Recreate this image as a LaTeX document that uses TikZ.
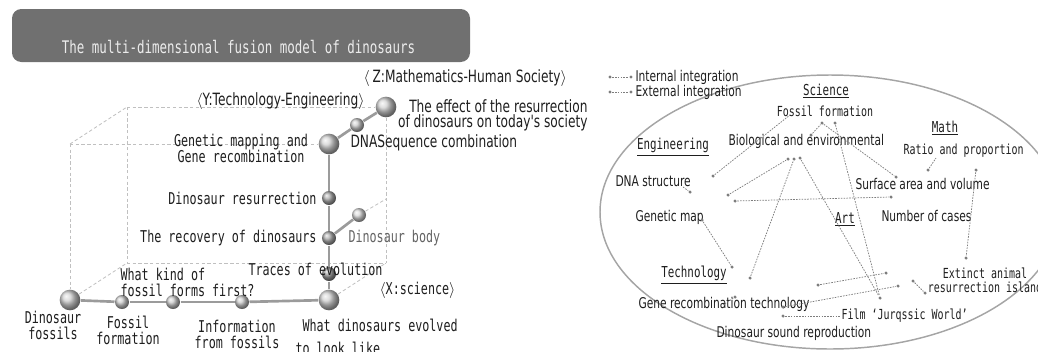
\documentclass[tikz,border=0pt]{standalone}
\usepackage{fontspec}
\newfontfamily\gulimmono[FakeStretch=0.72]{DejaVu Sans Mono}
\newfontfamily\narrowsans[FakeStretch=0.72]{DejaVu Sans}
\usetikzlibrary{positioning}

\definecolor{titlefill}{RGB}{112,112,112}
\definecolor{titleink}{RGB}{236,236,236}
\definecolor{ink}{RGB}{30,30,30}
\definecolor{bodyink}{RGB}{100,100,100}
\definecolor{rodgray}{RGB}{155,155,155}
\definecolor{cubegray}{RGB}{192,192,192}
\definecolor{linkgray}{RGB}{125,125,125}
\definecolor{ovalgray}{RGB}{165,165,165}

\tikzset{every picture/.style={line width=0.75pt}}

\begin{document}
\begin{tikzpicture}[x=0.75pt,y=0.75pt,yscale=-1,xscale=1,
  ballbig/.style={circle,shading=ball,ball color=gray!35,minimum size=15.5pt,inner sep=0pt},
  ballsmall/.style={circle,shading=ball,ball color=gray!40,minimum size=10.5pt,inner sep=0pt},
  rod/.style={draw=rodgray,line width=2pt},
  cubeedge/.style={draw=cubegray,line width=0.6pt,dash pattern=on 2.5pt off 1.8pt},
  link/.style={draw=linkgray,line width=0.55pt,dash pattern=on 1.2pt off 0.9pt},
  dotmark/.style={circle,fill=linkgray,inner sep=0pt,minimum size=2.6pt},
  axislbl/.style={font=\narrowsans\fontsize{12.7}{11.5}\selectfont,text=ink,inner sep=0.75pt},
  lbl/.style={font=\gulimmono\fontsize{12.2}{12}\selectfont,text=ink,inner sep=0.75pt},
  rlbl/.style={font=\narrowsans\fontsize{11.1}{11}\selectfont,text=ink,inner sep=0.75pt},
  rmono/.style={font=\gulimmono\fontsize{10.4}{10.5}\selectfont,text=ink,inner sep=0.75pt},
  rhead/.style={font=\gulimmono\fontsize{11.3}{11}\selectfont,text=ink,inner sep=0.75pt}]
\useasboundingbox (0,0) rectangle (1038,351);

%Title box
\node[fill=titlefill,rounded corners=7pt,minimum width=343.5pt,minimum height=39.75pt,inner sep=0pt] (titlebox) at (241,35.5) {};
\node[font=\gulimmono\fontsize{13}{13}\selectfont,text=titleink,inner sep=0.75pt] (titletext) at (238.5,47) {The multi-dimensional fusion model of dinosaurs};

%Cube corners
\coordinate (ftl) at (70,144);
\coordinate (btl) at (127,107);
\coordinate (bbl) at (127,263);
\coordinate (bbr) at (386,263);
\coordinate (bmr) at (386,199);

%Spheres
\node[ballbig] (fos) at (70,300) {};
\node[ballsmall] (ffm) at (122,302) {};
\node[ballsmall] (wkf) at (173,302) {};
\node[ballsmall] (inf) at (242,302) {};
\node[ballbig] (wde) at (329,300) {};
\node[ballsmall,ball color=gray!80] (trc) at (329,274) {};
\node[ballsmall,ball color=gray!65] (rec) at (329,238) {};
\node[ballsmall,ball color=gray!65] (res) at (329,198) {};
\node[ballbig] (gen) at (329,144) {};
\node[ballsmall] (dns) at (357,125) {};
\node[ballbig] (eff) at (386,107) {};
\node[ballsmall,ball color=gray!30] (body) at (359,215) {};

%Cube edges
\foreach \a/\b in {ftl/gen,ftl/fos,ftl/btl,btl/eff,btl/bbl,bbl/bbr,eff/bbr,fos/bbl,wde/bbr,body/bmr}
  \draw[cubeedge] (\a) -- (\b);

%Axes
\foreach \a/\b in {fos/ffm,ffm/wkf,wkf/inf,inf/wde,wde/trc,trc/rec,rec/res,res/gen,gen/dns,dns/eff,rec/body}
  \draw[rod] (\a) -- (\b);

% Text Node
\node[axislbl,anchor=west] (zlbl) at (362,78) {$\langle$\,Z:Mathematics-Human Society$\rangle$};
\node[axislbl,anchor=west] (ylbl) at (195,101) {$\langle$Y:Technology-Engineering$\rangle$};
\node[axislbl,anchor=east,align=right] (efftxt) at (589,115.5) {The effect of the resurrection\\of dinosaurs on today's society};
\node[axislbl,anchor=west] (dnstxt) at (349,143) {DNASequence combination};
\node[lbl,align=center] (gentxt) at (241,148) {Genetic mapping and\\Gene recombination};
\node[lbl,anchor=east] (restxt) at (318,198) {Dinosaur resurrection};
\node[lbl,anchor=east] (rectxt) at (318,238) {The recovery of dinosaurs};
\node[lbl,anchor=west,text=bodyink] (bodytxt) at (347,238) {Dinosaur body};
\node[lbl,anchor=west] (trctxt) at (247,269) {Traces of evolution};
\node[lbl,anchor=west] (xlbl) at (378,290) {$\langle$X:science$\rangle$};
\node[lbl,anchor=west,align=left] (wkftxt) at (119,282) {What kind of\\fossil forms first?};
\node[lbl,align=center] (fostxt) at (53,325) {Dinosaur\\fossils};
\node[lbl,align=center] (ffmtxt) at (128,330) {Fossil\\formation};
\node[lbl,align=center] (inftxt) at (237,334) {Information\\from fossils};
\node[lbl,anchor=west] (wdetxt) at (301,325) {What dinosaurs evolved};
\node[lbl,anchor=west] (lookedtxt) at (294,348) {to look like};

%Shape: Ellipse
\draw[draw=ovalgray,line width=1.1pt] (830,212) ellipse [x radius=230,y radius=137];

%Legend
\node[dotmark] (lgia) at (610,77) {};
\node[dotmark] (lgib) at (631,77) {};
\node[dotmark] (lgea) at (610,92) {};
\node[dotmark] (lgeb) at (631,92) {};
\draw[link] (lgia) -- (lgib);
\draw[link] (lgea) -- (lgeb);
\node[rlbl,anchor=west] (lgitxt) at (634,77) {Internal integration};
\node[rlbl,anchor=west] (lgetxt) at (634,92) {External integration};

% Text Node
\node[rhead] (sci) at (826,91) {\underline{Science}};
\node[rmono] (fosf) at (825,111) {Fossil formation};
\node[rhead] (math) at (945,128) {\underline{Math}};
\node[rlbl,anchor=west] (bio) at (727,141) {Biological and environmental};
\node[rhead] (eng) at (673,147) {\underline{Engineering}};
\node[rmono,anchor=west] (ratio) at (902,151) {Ratio and proportion};
\node[rlbl,anchor=west] (dnast) at (614,181) {DNA structure};
\node[rlbl,anchor=west] (surf) at (854,184) {Surface area and volume};
\node[rlbl,anchor=west] (gmap) at (634,217) {Genetic map};
\node[rhead] (art) at (845,219) {\underline{Art}};
\node[rlbl,anchor=west] (cases) at (880,216) {Number of cases};
\node[rhead] (tech) at (694,275) {\underline{Technology}};
\node[rmono,align=center] (isle) at (985,280) {Extinct animal\\resurrection island};
\node[rlbl,anchor=west] (generc) at (637,304) {Gene recombination technology};
\node[rmono,anchor=west] (film) at (840,316) {Film ‘Jurqssic World’};
\node[rlbl,anchor=west] (sound) at (715,333) {Dinosaur sound reproduction};

%Dots
\node[dotmark] (pa) at (713,176) {};
\coordinate (ca) at (790,115);
\node[dotmark] (pb) at (690,192) {};
\coordinate (cb) at (683,187);
\node[dotmark] (pc) at (728,195) {};
\node[dotmark] (ta) at (788,159) {};
\node[dotmark] (tb) at (794,159) {};
\node[dotmark] (tc) at (800,158) {};
\node[dotmark] (pd) at (735,201) {};
\node[dotmark] (pe) at (891,197) {};
\node[dotmark] (fa) at (822,123) {};
\node[dotmark] (fb) at (835,123) {};
\node[dotmark] (ph) at (811,135) {};
\node[dotmark] (ps) at (896,177) {};
\node[dotmark] (pr) at (928,170) {};
\coordinate (cr) at (936,158);
\node[dotmark] (pn) at (976,170) {};
\node[dotmark] (px) at (966,258) {};
\node[dotmark] (pm) at (702,220) {};
\node[dotmark] (pk) at (732,267) {};
\node[dotmark] (pq) at (750,278) {};
\node[dotmark] (pj) at (880,298) {};
\node[dotmark] (pu) at (735,297) {};
\coordinate (cu) at (723,305);
\node[dotmark] (pv) at (818,285) {};
\node[dotmark] (pw) at (886,273) {};
\node[dotmark] (pt) at (783,307) {};
\node[dotmark] (py) at (898,286) {};
\node[dotmark] (za) at (913,281) {};
\node[dotmark] (zb) at (925,293) {};
\node[dotmark] (pz) at (783,316) {};

%Integration links
\foreach \a/\b in {pa/ca,cb/pb,pc/ta,pq/tb,tc/pj,fb/pj,pd/pe,ph/fa,fa/ps,pr/cr,pn/px,pm/pk,pu/cu,pv/pw,pt/py,za/zb}
  \draw[link] (\a) -- (\b);
\draw[link] (pz) -- (film.west);

\end{tikzpicture}
\end{document}
